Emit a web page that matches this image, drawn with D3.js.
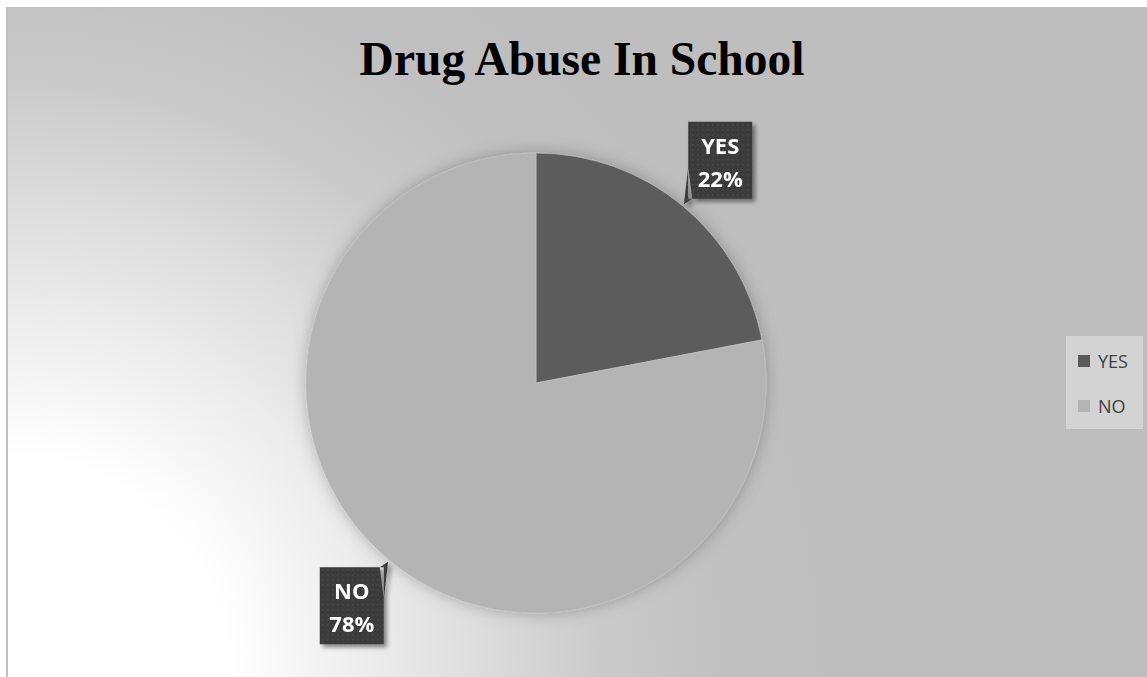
<!DOCTYPE html>
<html>
<head>
<meta charset="utf-8">
<script src="https://cdnjs.cloudflare.com/ajax/libs/d3/7.8.5/d3.min.js"></script>
<style>
  html, body { margin: 0; padding: 0; background: #fff; }
  svg { display: block; }
</style>
</head>
<body>
<div id="chart"></div>
<script>
const categories = ["YES", "NO"]
const values = [22, 78]
const colors = ["#5b5b5b", "#b4b4b4"]
const title = "Drug Abuse In School"

const width = 1147, height = 677
const cx = 536, cy = 383, radius = 230

const svg = d3.select("#chart")
    .append("svg")
    .attr("width", width)
    .attr("height", height)

const defs = svg.append("defs")

// background: white corner bottom-left fading to grey
const bg = defs.append("radialGradient")
    .attr("id", "bg")
    .attr("gradientUnits", "userSpaceOnUse")
    .attr("cx", 7).attr("cy", height)
    .attr("r", 820)
bg.selectAll("stop")
    .data([[0, "#ffffff"], [0.27, "#ffffff"], [0.55, "#e0e0e0"], [0.72, "#cbcbcb"], [0.88, "#c0c0c0"], [1, "#bebebe"]])
    .enter().append("stop")
    .attr("offset", d => d[0])
    .attr("stop-color", d => d[1])

const dots = defs.append("pattern")
    .attr("id", "dots")
    .attr("patternUnits", "userSpaceOnUse")
    .attr("width", 5).attr("height", 5)
dots.append("rect").attr("width", 5).attr("height", 5).attr("fill", "#3b3b3b")
dots.append("rect").attr("x", 1).attr("y", 1).attr("width", 1.5).attr("height", 1.5).attr("fill", "#4a4a4a")

const pieShadow = defs.append("filter")
    .attr("id", "pieShadow")
    .attr("x", "-20%").attr("y", "-20%").attr("width", "140%").attr("height", "140%")
pieShadow.append("feDropShadow")
    .attr("dx", 0).attr("dy", 0)
    .attr("stdDeviation", 8)
    .attr("flood-color", "#000")
    .attr("flood-opacity", 0.25)

const boxShadow = defs.append("filter")
    .attr("id", "boxShadow")
    .attr("x", "-30%").attr("y", "-30%").attr("width", "160%").attr("height", "160%")
boxShadow.append("feDropShadow")
    .attr("dx", 3).attr("dy", 3)
    .attr("stdDeviation", 2)
    .attr("flood-color", "#000")
    .attr("flood-opacity", 0.45)

svg.append("rect")
    .attr("x", 7).attr("y", 7)
    .attr("width", width - 7).attr("height", height - 7)
    .attr("fill", "url(#bg)")
svg.append("line")
    .attr("x1", 7).attr("x2", 7)
    .attr("y1", 7).attr("y2", height)
    .attr("stroke", "#bfbfbf")
    .attr("stroke-width", 2)

svg.append("text")
    .attr("x", 582)
    .attr("y", 75)
    .attr("text-anchor", "middle")
    .attr("font-family", "'Liberation Serif', 'Times New Roman', serif")
    .attr("font-weight", "bold")
    .attr("font-size", 47.5)
    .attr("fill", "#000")
    .text(title)

const pie = d3.pie().sort(null).value(d => d)
const arcs = pie(values)

const arc = d3.arc().innerRadius(0).outerRadius(radius)
const labelArc = d3.arc().innerRadius(289).outerRadius(289)
const tipArc = d3.arc().innerRadius(radius + 2).outerRadius(radius + 2)

const g = svg.append("g")
    .attr("transform", `translate(${cx},${cy})`)

g.append("g")
    .attr("filter", "url(#pieShadow)")
    .selectAll("path")
    .data(arcs)
    .enter()
    .append("path")
        .attr("d", arc)
        .attr("fill", (d, i) => colors[i])
        .attr("stroke", "#c4c4c4")
        .attr("stroke-width", 0.6)

// callout labels
const boxW = 64, boxH = 77
const labels = g.selectAll("g.label")
    .data(arcs)
    .enter()
    .append("g")
    .attr("class", "label")
    .attr("filter", "url(#boxShadow)")

labels.append("path")
    .attr("d", d => {
        const [lx, ly] = labelArc.centroid(d)
        const [tx, ty] = tipArc.centroid(d)
        const sx = Math.sign(tx - lx), sy = Math.sign(ty - ly)
        const kx = lx + sx * boxW / 2, ky = ly + sy * boxH / 2
        return `M${lx - boxW / 2},${ly - boxH / 2}h${boxW}v${boxH}h${-boxW}Z` +
            `M${kx},${ky - sy * 32}L${tx},${ty}L${kx - sx * 4},${ky}Z`
    })
    .attr("fill", "url(#dots)")

labels.append("text")
    .attr("x", d => labelArc.centroid(d)[0])
    .attr("y", d => labelArc.centroid(d)[1] - boxH / 2 + 32)
    .attr("text-anchor", "middle")
    .attr("font-family", "'Open Sans', sans-serif")
    .attr("font-weight", "bold")
    .attr("font-size", 22)
    .attr("fill", "#fff")
    .text((d, i) => categories[i])

labels.append("text")
    .attr("x", d => labelArc.centroid(d)[0])
    .attr("y", d => labelArc.centroid(d)[1] - boxH / 2 + 65)
    .attr("text-anchor", "middle")
    .attr("font-family", "'Open Sans', sans-serif")
    .attr("font-weight", "bold")
    .attr("font-size", 22)
    .attr("fill", "#fff")
    .text(d => d3.format(".0%")(d.value / d3.sum(values)))

// legend
const legend = svg.append("g")
    .attr("transform", "translate(1066,336)")
legend.append("rect")
    .attr("width", 77).attr("height", 93)
    .attr("fill", "#d3d3d3")

const items = legend.selectAll("g.item")
    .data(categories)
    .enter()
    .append("g")
    .attr("class", "item")
    .attr("transform", (d, i) => `translate(12,${25 + i * 45})`)
items.append("rect")
    .attr("y", -6)
    .attr("width", 12).attr("height", 12)
    .attr("fill", (d, i) => colors[i])
items.append("text")
    .attr("x", 20)
    .attr("y", 6.5)
    .attr("font-family", "'Open Sans', sans-serif")
    .attr("font-size", 18)
    .attr("fill", "#404040")
    .text(d => d)
</script>
</body>
</html>
